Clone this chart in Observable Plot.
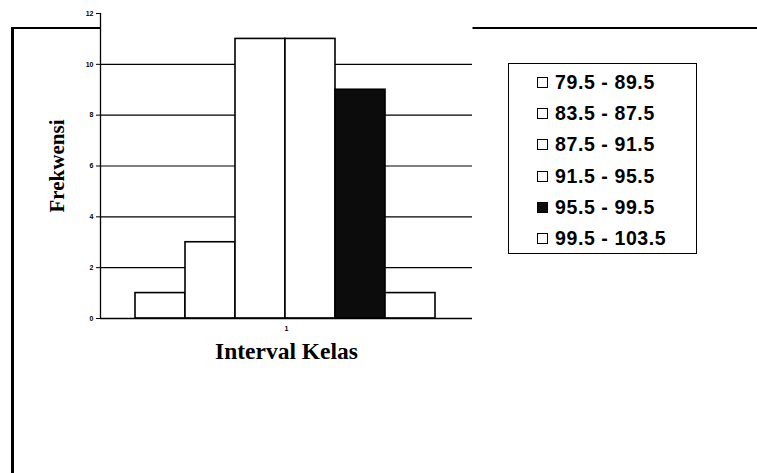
<!DOCTYPE html>
<html><head><meta charset="utf-8">
<script src="https://cdn.jsdelivr.net/npm/d3@7"></script>
<script src="https://cdn.jsdelivr.net/npm/@observablehq/plot@0.6"></script>
<style>
body{margin:0;background:#fff;}
#wrap{position:relative;width:757px;height:473px;overflow:hidden;background:#fff;}
#border{position:absolute;left:11px;top:27px;width:800px;height:500px;border-left:3px solid #000;border-top:2px solid #000;}
#chart{position:absolute;left:0;top:0;}
#legend{position:absolute;left:508px;top:63px;width:189px;height:191px;border:1px solid #000;background:#fff;box-sizing:border-box;padding-top:2.5px;font:bold 19.5px "Liberation Sans",Arial,sans-serif;letter-spacing:0.6px;color:#000;}
.row{height:31.3px;display:flex;align-items:center;padding-left:28px;}
.sw{width:9px;height:9px;border:1px solid #000;margin-right:7px;flex:none;}
</style></head>
<body><div id="wrap"><div id="border"></div><div id="chart"></div><div id="legend"></div></div>
<script>
const intervals = ["79.5 - 89.5","83.5 - 87.5","87.5 - 91.5","91.5 - 95.5","95.5 - 99.5","99.5 - 103.5"];
const frequencies = [1, 3, 11, 11, 9, 1];
const fills = ["#ffffff","#ffffff","#ffffff","#ffffff","#0c0c0c","#ffffff"];
const groupLabel = "1";
const yTicks = [0, 2, 4, 6, 8, 10, 12];
const gridValues = [2, 4, 6, 8, 10];
const xTitle = "Interval Kelas";
const yTitle = "Frekwensi";

const data = intervals.map((k, i) => ({interval: k, freq: frequencies[i], fill: fills[i]}));

const W = 757, H = 473, mL = 100, mR = 285, mT = 13, mB = 155;
const frameW = W - mL - mR;

const chart = Plot.plot({
  width: W, height: H,
  marginLeft: mL, marginRight: mR, marginTop: mT, marginBottom: mB,
  style: {background: "transparent", fontFamily: "Liberation Sans, Arial, sans-serif", color: "black", overflow: "visible"},
  x: {domain: intervals, padding: 0, insetLeft: 35, insetRight: 37, axis: null},
  y: {domain: [0, 12], axis: null},
  color: {type: "identity"},
  marks: [
    Plot.frame({fill: "white", stroke: "none"}),
    Plot.ruleY(gridValues, {stroke: "black", strokeWidth: 1.2}),
    Plot.barY(data, {x: "interval", y: "freq", fill: "fill", stroke: "black", strokeWidth: 1.6}),
    Plot.ruleY([0], {stroke: "black", strokeWidth: 1.3}),
    // y-axis line along the left edge of the frame
    Plot.ruleX([null], {x: null, dx: -frameW / 2, stroke: "black", strokeWidth: 1.3}),
    Plot.axisY({ticks: yTicks, tickSize: 4, tickPadding: 3, fontSize: 7, fontWeight: "bold", label: null}),
    Plot.text([groupLabel], {frameAnchor: "bottom", dy: 12, fontSize: 7, fontWeight: "bold"}),
    Plot.text([xTitle], {frameAnchor: "bottom", dy: 40, fontSize: 23.5, fontWeight: "bold", fontFamily: "Liberation Serif, Times New Roman, serif"}),
    Plot.text([yTitle], {frameAnchor: "left", textAnchor: "middle", dx: -43, rotate: -90, fontSize: 21, fontWeight: "bold", fontFamily: "Liberation Serif, Times New Roman, serif"})
  ]
});
document.getElementById("chart").appendChild(chart);

const legend = document.getElementById("legend");
intervals.forEach((k, i) => {
  const row = document.createElement("div");
  row.className = "row";
  const sw = document.createElement("span");
  sw.className = "sw";
  sw.style.background = fills[i];
  const t = document.createElement("span");
  t.textContent = k;
  row.appendChild(sw); row.appendChild(t);
  legend.appendChild(row);
});
</script>
</body></html>
